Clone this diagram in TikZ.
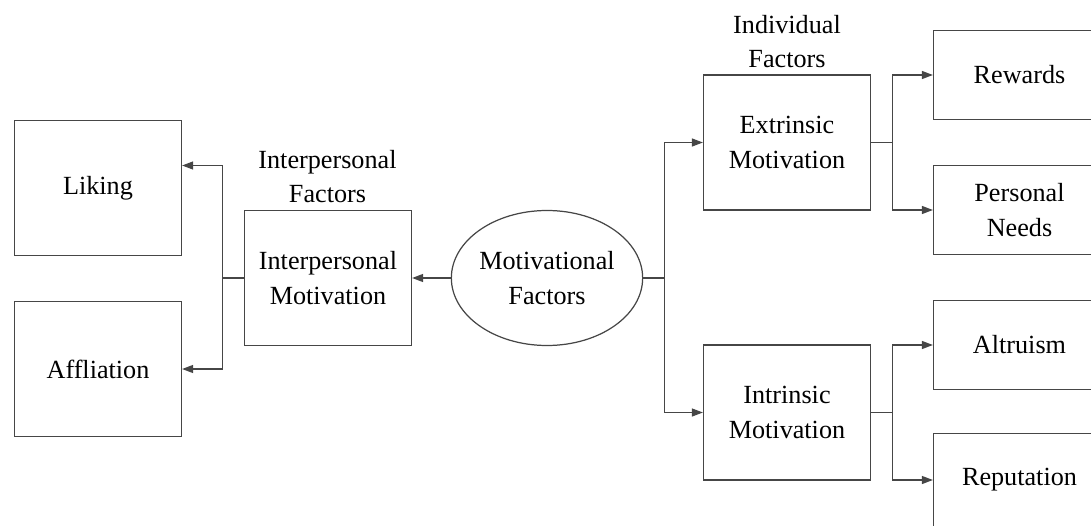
\documentclass[tikz,border=0pt]{standalone}
\usepackage{fontspec}
\setmainfont{Liberation Serif}
\usepackage{tikz}
\usetikzlibrary{positioning,arrows.meta,shapes.geometric}
\definecolor{mfLine}{RGB}{70,70,70}

\begin{document}
\begin{tikzpicture}[
    every node/.style={font=\fontsize{14.9}{19.4}\selectfont, align=center},
    factbox/.style={draw=mfLine, line width=0.7pt, minimum width=3.34cm, minimum height=2.70cm, inner sep=0pt},
    leafbox/.style={factbox, minimum width=3.44cm, minimum height=1.78cm},
    conn/.style={draw=mfLine, line width=0.7pt},
    arr/.style={conn, -{Triangle[length=0.22cm, width=0.16cm]}}
  ]
  \useasboundingbox (0,0) rectangle (21.82,10.5);

  % Centre
  \node[ellipse, draw=mfLine, line width=0.7pt, minimum width=3.76cm, minimum height=2.70cm, inner sep=0pt] (mf) at (10.94,4.94) {Motivational\\Factors};

  % Interpersonal side
  \node[factbox] (im) at (6.56,4.94) {Interpersonal\\Motivation};
  \node (imlabel) at (6.55,6.97) {Interpersonal\\Factors};
  \node[factbox] (liking) at (1.96,6.74) {Liking};
  \node[factbox] (affl) at (1.96,3.12) {Affliation};

  % Individual side
  \node[factbox] (em) at (15.74,7.65) {Extrinsic\\Motivation};
  \node (emlabel) at (15.74,9.67) {Individual\\Factors};
  \node[factbox] (intm) at (15.74,2.25) {Intrinsic\\Motivation};

  \node[leafbox] (rewards) at (20.39,9.0) {Rewards};
  \node[leafbox] (needs) at (20.39,6.3) {Personal\\Needs};
  \node[leafbox] (altruism) at (20.39,3.6) {Altruism};
  \node[leafbox, minimum height=1.86cm] (reputation) at (20.39,0.9) {Reputation};

  % Split points
  \coordinate[left=0.43cm of im.west] (imsplit);
  \coordinate[right=0.43cm of mf.east] (mfsplit);
  \coordinate[right=0.42cm of em.east] (emsplit);
  \coordinate[right=0.42cm of intm.east] (intmsplit);

  % Connectors
  \draw[arr] (mf.west) -- (im.east);
  \draw[conn] (im.west) -- (imsplit);
  \draw[arr] (imsplit) |- ([yshift=0.45cm]liking.east);
  \draw[arr] (imsplit) |- (affl.east);

  \draw[conn] (mf.east) -- (mfsplit);
  \draw[arr] (mfsplit) |- (em.west);
  \draw[arr] (mfsplit) |- (intm.west);

  \draw[conn] (em.east) -- (emsplit);
  \draw[arr] (emsplit) |- (rewards.west);
  \draw[arr] (emsplit) |- (needs.west);

  \draw[conn] (intm.east) -- (intmsplit);
  \draw[arr] (intmsplit) |- (altruism.west);
  \draw[arr] (intmsplit) |- (reputation.west);
\end{tikzpicture}
\end{document}
